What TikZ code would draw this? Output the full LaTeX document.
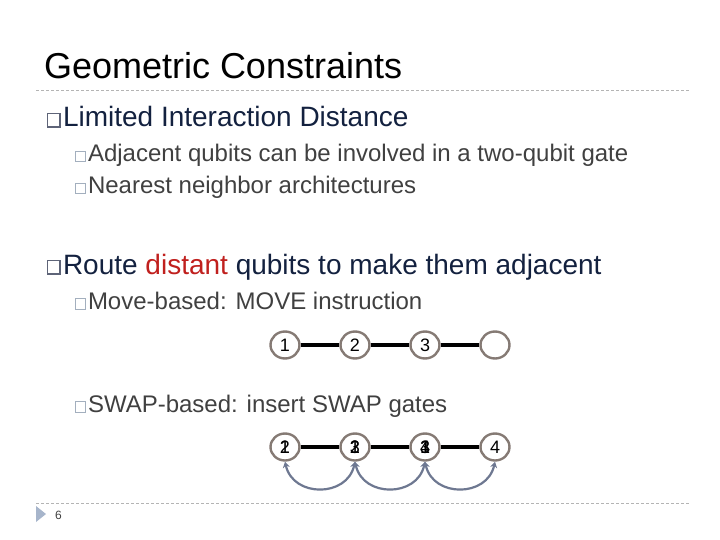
\documentclass[tikz,border=0pt]{standalone}
\usepackage{fontspec}
\setmainfont{Liberation Sans}
\usetikzlibrary{arrows.meta,shapes.geometric}
\definecolor{navy}{HTML}{13213F}
\definecolor{subgray}{HTML}{404040}
\definecolor{redw}{HTML}{C0201E}
\definecolor{bulA}{HTML}{5E6478}
\definecolor{bulB}{HTML}{A3AFBE}
\definecolor{qgray}{HTML}{857A74}
\definecolor{arrc}{HTML}{6E7891}
\definecolor{dashc}{HTML}{B4B4B4}
\definecolor{footc}{HTML}{A7B5CB}
\begin{document}
\begin{tikzpicture}[x=1pt,y=-1pt,
  txt/.style={anchor=base west, inner sep=0pt, outer sep=0pt},
  ttl/.style={txt, font=\fontsize{36}{36}\selectfont, text=black},
  lvA/.style={txt, font=\fontsize{28}{28}\selectfont, text=navy},
  lvB/.style={txt, font=\fontsize{24}{24}\selectfont, text=subgray},
  bxA/.style={draw=bulA, line width=1.3pt},
  bxB/.style={draw=bulB, line width=1pt},
  sep/.style={draw=dashc, line width=0.8pt, dash pattern=on 3pt off 2pt},
  qb/.style={ellipse, draw=qgray, line width=2.4pt, minimum width=29pt, minimum height=27pt, inner sep=0pt, fill=white, font=\fontsize{18}{18}\selectfont},
  dg/.style={font=\fontsize{18}{18}\selectfont, inner sep=0pt},
  link/.style={line width=3.8pt, black},
  swp/.style={draw=arrc, line width=2.2pt, {Stealth[length=6pt,width=7pt]}-{Stealth[length=6pt,width=7pt]}}]
\useasboundingbox (0,0) rectangle (720,540);
% title
\node[ttl] (title) at (44,79) {Geometric Constraints};
\draw[sep] (36,90) -- (690,90);
% level 1
\draw[bxA] (47.5,113.5) rectangle (60,127);
\node[lvA] (l1) at (63,127) {Limited Interaction Distance};
\draw[bxB] (75,151.5) rectangle (85,162);
\node[lvB] (l1a) at (88,162) {Adjacent qubits can be involved in a two-qubit gate};
\draw[bxB] (75,183.5) rectangle (85,194);
\node[lvB] (l1b) at (88,194) {Nearest neighbor architectures};
% level 2
\draw[bxA] (47.5,260.5) rectangle (60,274);
\node[lvA] (l2) at (63,274) {Route \textcolor{redw}{distant} qubits to make them adjacent};
\draw[bxB] (75,298.5) rectangle (85,309);
\node[lvB] (l2a) at (88,309) {Move-based: MOVE instruction};
\draw[bxB] (75,401.5) rectangle (85,412);
\node[lvB] (l2b) at (88,412) {SWAP-based: insert SWAP gates};
% move row
\node[qb] (m1) at (285,345) {1};
\node[qb] (m2) at (355,345) {2};
\node[qb] (m3) at (425,345) {3};
\node[qb] (m4) at (495,345) {};
\draw[link] (m1) -- (m2);
\draw[link] (m2) -- (m3);
\draw[link] (m3) -- (m4);
% swap row
\node[qb] (s1) at (285,447) {};
\node[qb] (s2) at (355,447) {};
\node[qb] (s3) at (425,447) {};
\node[qb] (s4) at (495,447) {4};
\node[dg] (s1a) at (s1) {1};
\node[dg] (s1b) at (s1) {2};
\node[dg] (s2a) at (s2) {1};
\node[dg] (s2b) at (s2) {2};
\node[dg] (s2c) at (s2) {3};
\node[dg] (s3a) at (s3) {1};
\node[dg] (s3b) at (s3) {3};
\node[dg] (s3c) at (s3) {4};
\draw[link] (s1) -- (s2);
\draw[link] (s2) -- (s3);
\draw[link] (s3) -- (s4);
\draw[swp] (s1.south) .. controls +(8,36) and +(-8,36) .. (s2.south);
\draw[swp] (s2.south) .. controls +(8,36) and +(-8,36) .. (s3.south);
\draw[swp] (s3.south) .. controls +(8,36) and +(-8,36) .. (s4.south);
% footer
\draw[sep] (36,503) -- (690,503);
\fill[footc] (36,506) -- (46,514) -- (36,522) -- cycle;
\node[txt, font=\fontsize{12}{12}\selectfont, text=subgray] (pg) at (55,519) {6};
\end{tikzpicture}
\end{document}
